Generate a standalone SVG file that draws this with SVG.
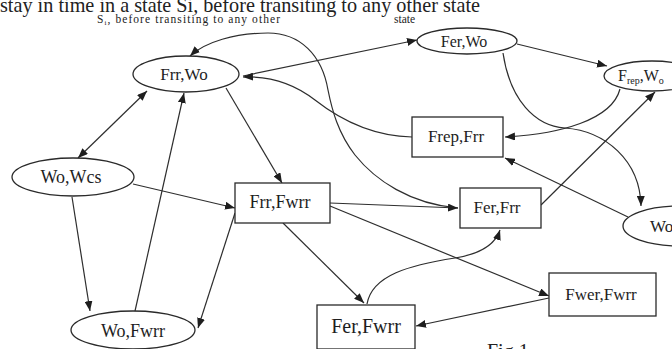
<svg xmlns="http://www.w3.org/2000/svg" width="672" height="349" viewBox="0 0 672 349">
<style>
  .n { fill: #ffffff; stroke: #2a2a2a; stroke-width: 1.3; }
  .t { font-family: "Liberation Serif", "Times New Roman", serif; fill: #1e1e1e; text-anchor: middle; }
  .c { fill: none; stroke: #2e2e2e; stroke-width: 1.2; }
  .hd { font-family: "Liberation Serif", "Times New Roman", serif; fill: #222; }
</style>
<defs>
  <marker id="ah" viewBox="0 0 10 8" refX="10" refY="4" markerWidth="10" markerHeight="8" orient="auto-start-reverse" markerUnits="userSpaceOnUse">
    <path d="M0,0 L10,4 L0,8 z" fill="#1e1e1e"/>
  </marker>
</defs>
<rect width="672" height="349" fill="#ffffff"/>

<g id="header">
  <text class="hd" x="0" y="12" font-size="22" textLength="480" lengthAdjust="spacingAndGlyphs">stay in time in a state Si, before transiting to any other state</text>
  <text class="hd" x="97" y="23" font-size="11.5" textLength="183" lengthAdjust="spacing">S<tspan font-size="7" dy="2">i</tspan><tspan dy="-2">, before transiting to any other</tspan></text>
  <text class="hd" x="394" y="23" font-size="11.5">state</text>
  <text class="hd" x="487" y="358" font-size="20">Fig.1</text>
</g>

<g id="connectors">
  <path class="c" d="M147,91 L78,158" marker-start="url(#ah)" marker-end="url(#ah)"/>
  <path class="c" d="M135,311 L184,93" marker-end="url(#ah)"/>
  <path class="c" d="M226,88 L282,183" marker-end="url(#ah)"/>
  <path class="c" d="M133,184 L235,208" marker-end="url(#ah)"/>
  <path class="c" d="M72,197 L90,311" marker-end="url(#ah)"/>
  <path class="c" d="M235,213 L198,328" marker-end="url(#ah)"/>
  <path class="c" d="M243,76 L417,40" marker-end="url(#ah)"/>
  <path class="c" d="M412,137 C370,136 338,118 315,100 C292,82 268,76 243,77" marker-end="url(#ah)"/>
  <path class="c" d="M458,208 C410,204 375,180 355,155 C338,133 332,110 328,90 C322,55 300,33 268,33 C235,33 205,42 190,56" marker-end="url(#ah)"/>
  <path class="c" d="M517,44 L607,66" marker-end="url(#ah)"/>
  <path class="c" d="M620,89 C612,120 560,134 505,137" marker-end="url(#ah)"/>
  <path class="c" d="M503,53 C510,100 535,126 565,128 C605,131 640,160 641,206" marker-end="url(#ah)"/>
  <path class="c" d="M628,217 L505,158" marker-end="url(#ah)"/>
  <path class="c" d="M541,205 L655,92" marker-end="url(#ah)"/>
  <path class="c" d="M330,203 L458,208" marker-end="url(#ah)"/>
  <path class="c" d="M330,206 L549,296" marker-end="url(#ah)"/>
  <path class="c" d="M283,223 L364,303" marker-end="url(#ah)"/>
  <path class="c" d="M367,304 C372,275 410,265 455,258 C480,254 495,245 500,230" marker-end="url(#ah)"/>
  <path class="c" d="M549,298 L416,326" marker-end="url(#ah)"/>
</g>

<g id="node-frr-wo">
  <ellipse class="n" cx="186" cy="74" rx="53" ry="18"/>
  <text class="t" x="184" y="80" font-size="17">Frr,Wo</text>
</g>
<g id="node-wo-wcs">
  <ellipse class="n" cx="73" cy="177" rx="61" ry="19"/>
  <text class="t" x="71" y="183" font-size="18">Wo,Wcs</text>
</g>
<g id="node-wo-fwrr">
  <ellipse class="n" cx="133" cy="330" rx="62" ry="19"/>
  <text class="t" x="133" y="337" font-size="18">Wo,Fwrr</text>
</g>
<g id="node-frr-fwrr">
  <rect class="n" x="235" y="183" width="95" height="40"/>
  <text class="t" x="280" y="208" font-size="18">Frr,Fwrr</text>
</g>
<g id="node-fer-wo">
  <ellipse class="n" cx="467" cy="41" rx="50" ry="13"/>
  <text class="t" x="464" y="47" font-size="16">Fer,Wo</text>
</g>
<g id="node-frep-wo">
  <ellipse class="n" cx="652" cy="76" rx="48" ry="15"/>
  <text class="hd" x="618" y="81" font-size="16">F<tspan font-size="10" dy="3">rep</tspan><tspan dy="-3">,W</tspan><tspan font-size="10" dy="3">o</tspan></text>
</g>
<g id="node-frep-frr">
  <rect class="n" x="412" y="117" width="91" height="40"/>
  <text class="t" x="456" y="142" font-size="17">Frep,Frr</text>
</g>
<g id="node-fer-frr">
  <rect class="n" x="460" y="188" width="81" height="40"/>
  <text class="t" x="497" y="213" font-size="17">Fer,Frr</text>
</g>
<g id="node-wo">
  <ellipse class="n" cx="680" cy="226" rx="57" ry="20"/>
  <text class="hd" x="650" y="232" font-size="17">Wo</text>
</g>
<g id="node-fwer-fwrr">
  <rect class="n" x="549" y="273" width="107" height="43"/>
  <text class="t" x="601" y="300" font-size="17">Fwer,Fwrr</text>
</g>
<g id="node-fer-fwrr">
  <rect class="n" x="317" y="305" width="98" height="44"/>
  <text class="t" x="366" y="333" font-size="20">Fer,Fwrr</text>
</g>
</svg>
